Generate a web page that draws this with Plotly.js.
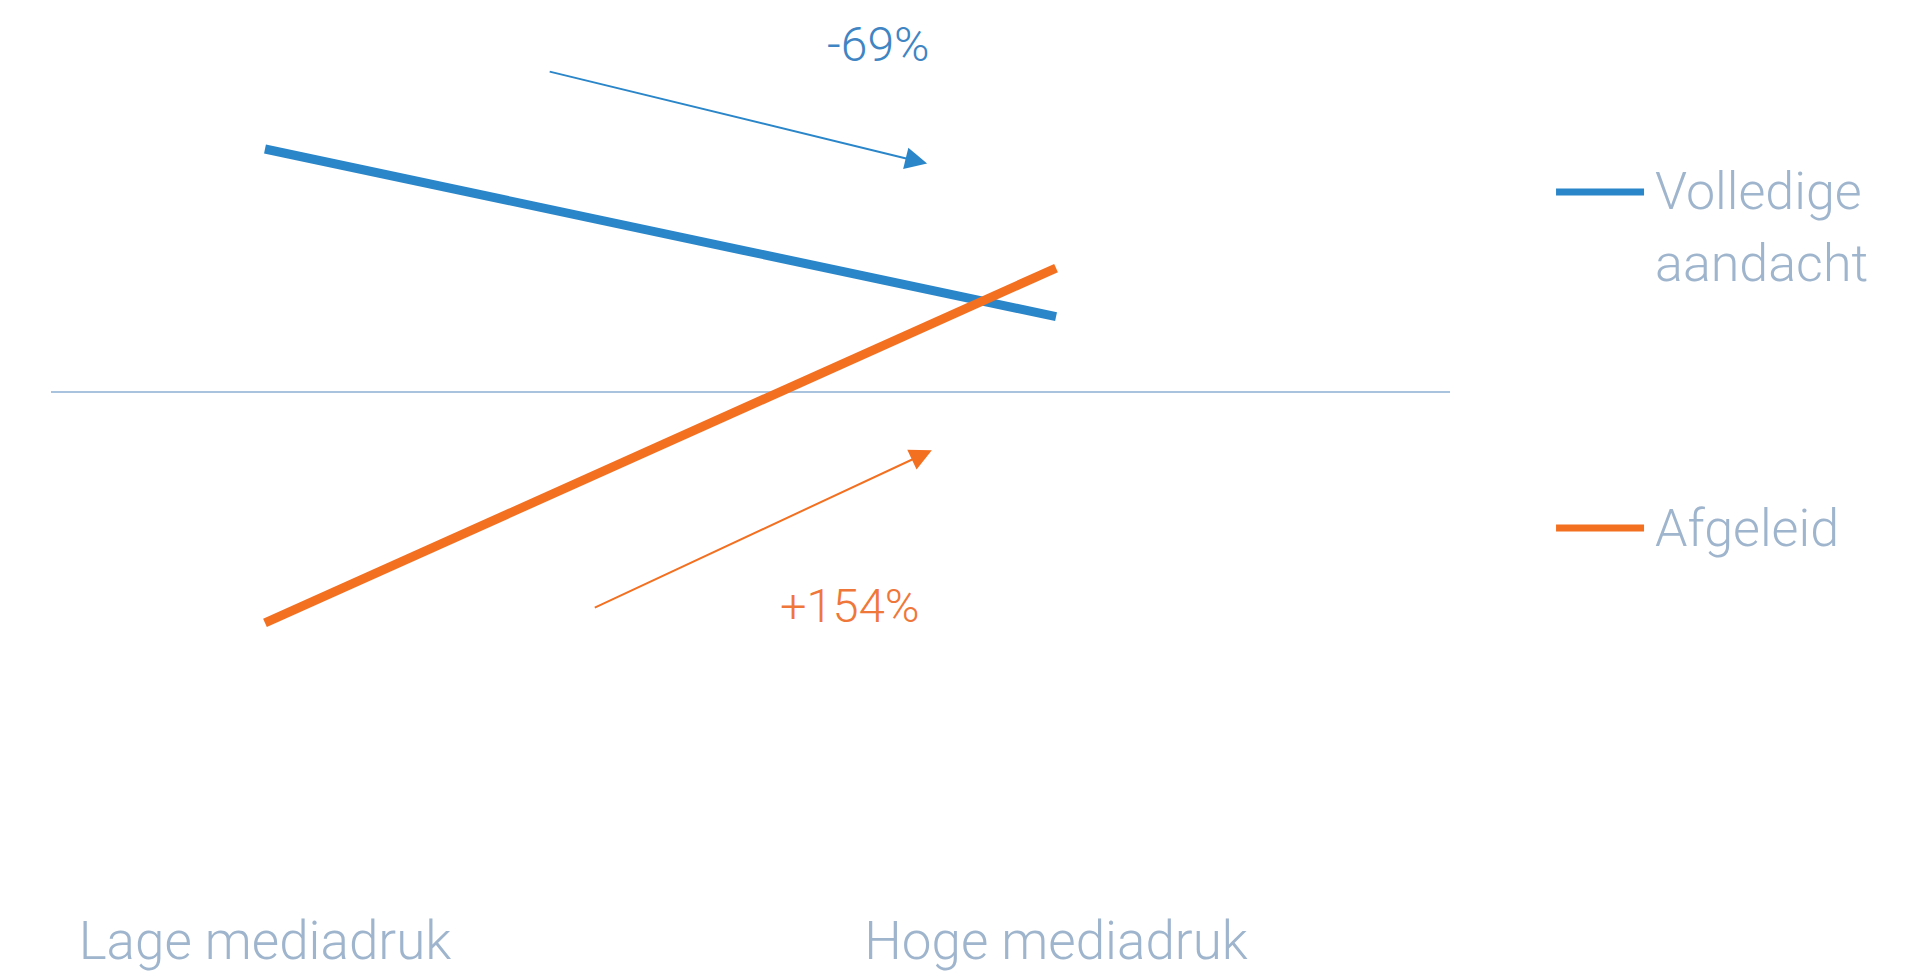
<!DOCTYPE html>
<html>
<head>
<meta charset="utf-8">
<script src="https://cdn.plot.ly/plotly-3.0.1.min.js"></script>
<style>html,body{margin:0;padding:0;background:#fff;}#chart{width:1917px;height:977px;}</style>
</head>
<body>
<div id="chart"></div>
<script>
// ---- data ----
const categories = ['Lage mediadruk', 'Hoge mediadruk'];
const volledige = [100, 31];
const afgeleid = [-95, 51];
const seriesNames = ['Volledige<br>aandacht', 'Afgeleid'];
const changeLabels = ['-69%', '+154%'];

// ---- styles ----
const blue = '#2a86c9';
const orange = '#f37021';
const labelColor = '#9fb5cd';
const fontFam = 'Roboto, "Noto Sans", sans-serif';
const xIdx = categories.map((c, i) => i);

const traces = [
  {x: xIdx, y: volledige, name: seriesNames[0], mode: 'lines', line: {color: blue, width: 9}, showlegend: false, hoverinfo: 'skip'},
  {x: xIdx, y: afgeleid, name: seriesNames[1], mode: 'lines', line: {color: orange, width: 9}, showlegend: false, hoverinfo: 'skip'}
];

// plot area spans y pixels 0..905
const plotH = 905;
const py = p => (plotH - p) / plotH;
const legendY = [[py(192), py(263)], [py(528)]];
const annotations = [];
const shapes = [];
[blue, orange].forEach((col, i) => {
  shapes.push({type: 'line', xref: 'paper', yref: 'paper', x0: 1.0758, x1: 1.1387, y0: legendY[i][0], y1: legendY[i][0], line: {color: col, width: 7}});
  seriesNames[i].split('<br>').forEach((t, j) => {
    annotations.push({xref: 'paper', yref: 'paper', x: 1.145, y: legendY[i][j], xanchor: 'left', yanchor: 'middle', text: t, showarrow: false, font: {family: fontFam, size: 52, color: labelColor, weight: 300}});
  });
});

// change arrows and labels
annotations.push({x: 0.837, y: 94, ax: 0.358, ay: 132, xref: 'x', yref: 'y', axref: 'x', ayref: 'y', text: '', showarrow: true, arrowhead: 2, arrowsize: 2.2, arrowwidth: 2, arrowcolor: blue});
annotations.push({x: 0.843, y: -24, ax: 0.415, ay: -89, xref: 'x', yref: 'y', axref: 'x', ayref: 'y', text: '', showarrow: true, arrowhead: 2, arrowsize: 2.2, arrowwidth: 2, arrowcolor: orange});
annotations.push({x: 0.775, y: 143, xref: 'x', yref: 'y', text: changeLabels[0], showarrow: false, font: {family: fontFam, size: 48, color: '#3f85c3', weight: 300}});
annotations.push({x: 0.74, y: -88, xref: 'x', yref: 'y', text: changeLabels[1], showarrow: false, font: {family: fontFam, size: 47, color: '#f0773a', weight: 300}});

const layout = {
  width: 1917, height: 977,
  margin: {l: 51, r: 467, t: 0, b: 977 - plotH},
  paper_bgcolor: '#ffffff', plot_bgcolor: '#ffffff',
  showlegend: false,
  xaxis: {
    range: [-0.2705, 1.498], tickvals: xIdx, ticktext: categories,
    showgrid: false, zeroline: false, showline: false, ticks: '',
    tickfont: {family: fontFam, size: 53, color: labelColor, weight: 300}
  },
  yaxis: {
    range: [-(plotH - 392) / 2.43, 392 / 2.43], showgrid: false, showticklabels: false, ticks: '',
    zeroline: true, zerolinecolor: '#a9c3de', zerolinewidth: 2.5, showline: false
  },
  shapes: shapes,
  annotations: annotations
};

Plotly.newPlot('chart', traces, layout, {displayModeBar: false, staticPlot: true});
</script>
</body>
</html>
